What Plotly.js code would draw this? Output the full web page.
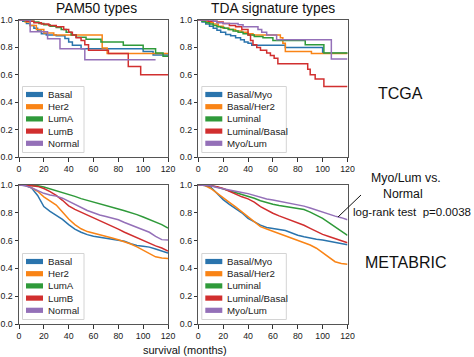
<!DOCTYPE html>
<html>
<head>
<meta charset="utf-8">
<script src="https://cdn.plot.ly/plotly-3.0.1.min.js"></script>
<style>html,body{margin:0;padding:0;background:#fff;}#chart{width:474px;height:357px;}</style>
</head>
<body>
<div id="chart"></div>
<script>
// ---------- DATA ----------
const pam50Names = ['Basal', 'Her2', 'LumA', 'LumB', 'Normal'];
const tdaNames = ['Basal/Myo', 'Basal/Her2', 'Luminal', 'Luminal/Basal', 'Myo/Lum'];
const panelTitles = ['PAM50 types', 'TDA signature types'];
const cohortLabels = ['TCGA', 'METABRIC'];
const xTitle = 'survival (months)';
const noteLines = ['Myo/Lum vs.', 'Normal', 'log-rank test  p=0.0038'];

// TCGA, PAM50 (Kaplan-Meier steps)
const tcgaBasalT = [0, 3, 6, 9, 12, 15, 18, 22, 30, 37, 40, 43, 50, 100, 108, 120];
const tcgaBasalS = [1, .99, .975, .96, .94, .92, .90, .89, .885, .865, .84, .815, .79, .77, .745, .745];
const tcgaHer2T = [0, 5, 9, 14, 20, 28, 67, 71, 120];
const tcgaHer2S = [1, .985, .96, .93, .905, .89, .795, .755, .755];
const tcgaLumAT = [0, 4, 8, 12, 16, 20, 25, 30, 34, 38, 42, 46, 54, 66, 84, 100, 110, 116, 120];
const tcgaLumAS = [1, .995, .99, .985, .975, .965, .955, .945, .93, .91, .89, .875, .86, .84, .815, .79, .76, .735, .735];
const tcgaLumBT = [0, 6, 12, 18, 24, 30, 36, 40, 43, 46, 50, 53, 56, 72, 88, 98, 120];
const tcgaLumBS = [1, .99, .98, .97, .96, .95, .93, .91, .89, .87, .85, .82, .78, .755, .66, .60, .60];
const tcgaNormalT = [0, 9, 23, 33, 53, 110];
const tcgaNormalS = [1, .915, .864, .79, .71, .71];

// TCGA, TDA signature types
const tdaBasalMyoT = [0, 3, 6, 9, 12, 15, 18, 22, 26, 30, 34, 37, 40, 43, 70, 100, 120];
const tdaBasalMyoS = [1, .985, .97, .955, .94, .925, .91, .895, .885, .87, .855, .84, .83, .815, .80, .757, .757];
const tdaBasalHer2T = [0, 4, 8, 12, 16, 20, 25, 30, 35, 40, 44, 66, 68, 70, 91, 120];
const tdaBasalHer2S = [1, .99, .98, .97, .955, .94, .93, .92, .91, .90, .89, .87, .83, .77, .755, .755];
const tdaLuminalT = [0, 3, 6, 9, 12, 15, 18, 21, 24, 28, 32, 36, 40, 45, 52, 60, 86, 101, 120];
const tdaLuminalS = [1, .99, .98, .97, .96, .95, .945, .94, .93, .92, .91, .90, .89, .88, .87, .85, .82, .76, .755];
const tdaLumBasalT = [0, 8, 15, 20, 25, 30, 35, 40, 42, 44, 47, 50, 55, 58, 61, 64, 88, 90, 94, 101, 120];
const tdaLumBasalS = [1, .99, .985, .975, .96, .95, .93, .89, .85, .82, .80, .78, .76, .74, .72, .68, .64, .60, .57, .515, .515];
const tdaMyoLumT = [0, 12, 15, 20, 32, 36, 48, 51, 55, 63, 107, 120];
const tdaMyoLumS = [1, .99, .98, .975, .965, .95, .93, .91, .89, .855, .715, .715];

// METABRIC (read every 5 months)
const metabricT = [0, 5, 10, 15, 20, 25, 30, 35, 40, 45, 50, 55, 60, 65, 70, 75, 80, 85, 90, 95, 100, 105, 110, 115, 120];
const mbBasal = [1, .997, .98, .925, .845, .81, .782, .752, .715, .682, .66, .643, .632, .625, .619, .612, .605, .595, .577, .565, .56, .553, .54, .525, .51];
const mbHer2 = [1, .998, .98, .955, .915, .885, .856, .805, .755, .715, .685, .665, .652, .64, .63, .618, .606, .592, .575, .555, .533, .508, .483, .474, .472];
const mbLumA = [1, 1, .998, .995, .985, .972, .96, .948, .935, .918, .902, .89, .88, .868, .857, .843, .828, .815, .802, .787, .77, .752, .735, .715, .69];
const mbLumB = [1, 1, .995, .99, .975, .952, .925, .89, .85, .825, .805, .785, .765, .748, .727, .705, .683, .66, .64, .623, .605, .582, .562, .547, .525];
const mbNormal = [1, .995, .98, .96, .94, .928, .92, .905, .882, .86, .838, .817, .8, .784, .774, .763, .75, .73, .713, .697, .68, .66, .63, .607, .604];
const mbBasalMyo = [1, 1, .985, .94, .895, .86, .83, .8, .76, .733, .711, .695, .685, .68, .672, .655, .638, .627, .616, .61, .604, .596, .587, .578, .57];
const mbBasalHer2 = [1, .998, .975, .94, .904, .875, .842, .805, .77, .73, .70, .684, .668, .652, .636, .619, .601, .585, .568, .545, .512, .475, .448, .436, .43];
const mbLuminal = [1, 1, .995, .985, .972, .958, .943, .93, .92, .905, .887, .872, .862, .853, .846, .839, .832, .823, .805, .784, .76, .73, .70, .672, .637];
const mbLumBasal = [1, 1, .995, .987, .975, .955, .932, .915, .90, .877, .845, .818, .797, .778, .762, .745, .728, .71, .688, .664, .645, .63, .615, .60, .585];
const mbMyoLum = [1, 1, .995, .982, .972, .963, .954, .946, .938, .926, .91, .899, .892, .884, .875, .866, .857, .848, .835, .82, .804, .787, .776, .765, .75];

const xTicks = [0, 20, 40, 60, 80, 100, 120];
const yTicks = [0, 0.2, 0.4, 0.6, 0.8, 1.0];

// ---------- STYLE / LAYOUT ----------
const colors = ['#2a74ad', '#f98416', '#2f9a3a', '#d12f2f', '#9470b8'];
const W = 474, H = 357;
const px = x => x / W;
const py = y => 1 - y / H;
const FONT = 'Liberation Sans, Arial, Helvetica, sans-serif';

const colL = [19, 168], colR = [198.3, 347.5];
const rowT = [20, 157], rowB = [185, 324];

const traces = [];
function addPanel(ts, ss, names, xa, ya, shape) {
  for (let i = 0; i < names.length; i++) {
    traces.push({
      x: ts[i], y: ss[i], type: 'scatter', mode: 'lines', name: names[i],
      xaxis: xa, yaxis: ya, showlegend: false, hoverinfo: 'skip',
      line: {color: colors[i], width: 1.5, shape: shape}
    });
  }
}
addPanel([tcgaBasalT, tcgaHer2T, tcgaLumAT, tcgaLumBT, tcgaNormalT],
         [tcgaBasalS, tcgaHer2S, tcgaLumAS, tcgaLumBS, tcgaNormalS], pam50Names, 'x', 'y', 'hv');
addPanel([tdaBasalMyoT, tdaBasalHer2T, tdaLuminalT, tdaLumBasalT, tdaMyoLumT],
         [tdaBasalMyoS, tdaBasalHer2S, tdaLuminalS, tdaLumBasalS, tdaMyoLumS], tdaNames, 'x2', 'y2', 'hv');
addPanel([metabricT, metabricT, metabricT, metabricT, metabricT],
         [mbBasal, mbHer2, mbLumA, mbLumB, mbNormal], pam50Names, 'x3', 'y3', 'linear');
addPanel([metabricT, metabricT, metabricT, metabricT, metabricT],
         [mbBasalMyo, mbBasalHer2, mbLuminal, mbLumBasal, mbMyoLum], tdaNames, 'x4', 'y4', 'linear');

function xax(col, anchor) {
  return {
    domain: [px(col[0]), px(col[1])], anchor: anchor, range: [0, 120],
    tickvals: xTicks, ticktext: xTicks.map(String),
    ticks: 'outside', ticklen: 3.5, tickwidth: 1, tickcolor: '#333',
    showline: true, linecolor: '#555', linewidth: 1, mirror: true,
    showgrid: false, zeroline: false, fixedrange: true,
    tickfont: {family: FONT, size: 8.8, color: '#1a1a1a'}
  };
}
function yax(row, anchor) {
  return {
    domain: [py(row[1]), py(row[0])], anchor: anchor, range: [0, 1],
    tickvals: yTicks, ticktext: yTicks.map(v => v.toFixed(1)),
    ticks: 'outside', ticklen: 3.5, tickwidth: 1, tickcolor: '#333',
    showline: true, linecolor: '#555', linewidth: 1, mirror: true,
    showgrid: false, zeroline: false, fixedrange: true,
    tickfont: {family: FONT, size: 8.8, color: '#1a1a1a'}
  };
}

const shapes = [];
const annotations = [];

// custom legends (matplotlib style boxes)
function addLegend(names, col, row, boxW) {
  const left = col[0] + 3.5;
  const bottom = row[1] - 4.5;
  const top = bottom - 66;
  shapes.push({type: 'rect', xref: 'paper', yref: 'paper', layer: 'above',
    x0: px(left), x1: px(left + boxW), y0: py(bottom), y1: py(top),
    line: {color: '#d4d4d4', width: 1}, fillcolor: 'rgba(255,255,255,0.85)'});
  for (let i = 0; i < names.length; i++) {
    const yc = top + 8 + i * 12.2;
    shapes.push({type: 'rect', xref: 'paper', yref: 'paper', layer: 'above',
      x0: px(left + 3.5), x1: px(left + 20.5), y0: py(yc + 2.6), y1: py(yc - 2.6),
      line: {width: 0}, fillcolor: colors[i]});
    annotations.push({xref: 'paper', yref: 'paper', x: px(left + 23), y: py(yc),
      xanchor: 'left', yanchor: 'middle', showarrow: false, text: names[i],
      font: {family: FONT, size: 9.7, color: '#222'}});
  }
}
addLegend(pam50Names, colL, rowT, 61.5);
addLegend(tdaNames, colR, rowT, 84.5);
addLegend(pam50Names, colL, rowB, 61.5);
addLegend(tdaNames, colR, rowB, 84.5);

function label(text, x, y, size, xanchor) {
  annotations.push({xref: 'paper', yref: 'paper', x: px(x), y: py(y),
    xanchor: xanchor || 'center', yanchor: 'middle', showarrow: false, text: text,
    font: {family: FONT, size: size, color: '#111'}});
}
label(panelTitles[0], 96.7, 8.3, 13.8);
label(panelTitles[1], 273.3, 8.3, 13.8);
label(cohortLabels[0], 400, 93.3, 16);
label(cohortLabels[1], 405, 262.7, 16);
label(xTitle, 184.5, 350, 11);
label(noteLines[0], 405.7, 178.3, 12.3);
label(noteLines[1], 403.3, 194.3, 12.3);
label(noteLines[2], 351, 211.7, 11.5, 'left');

shapes.push({type: 'line', xref: 'paper', yref: 'paper', layer: 'above',
  x0: px(338), y0: py(217), x1: px(361), y1: py(195), line: {color: '#111', width: 1}});

const layout = {
  width: W, height: H, margin: {l: 0, r: 0, t: 0, b: 0},
  paper_bgcolor: '#fff', plot_bgcolor: '#fff', showlegend: false,
  font: {family: FONT},
  xaxis: xax(colL, 'y'), yaxis: yax(rowT, 'x'),
  xaxis2: xax(colR, 'y2'), yaxis2: yax(rowT, 'x2'),
  xaxis3: xax(colL, 'y3'), yaxis3: yax(rowB, 'x3'),
  xaxis4: xax(colR, 'y4'), yaxis4: yax(rowB, 'x4'),
  shapes: shapes, annotations: annotations
};

Plotly.newPlot('chart', traces, layout, {staticPlot: true, displayModeBar: false});
</script>
</body>
</html>
